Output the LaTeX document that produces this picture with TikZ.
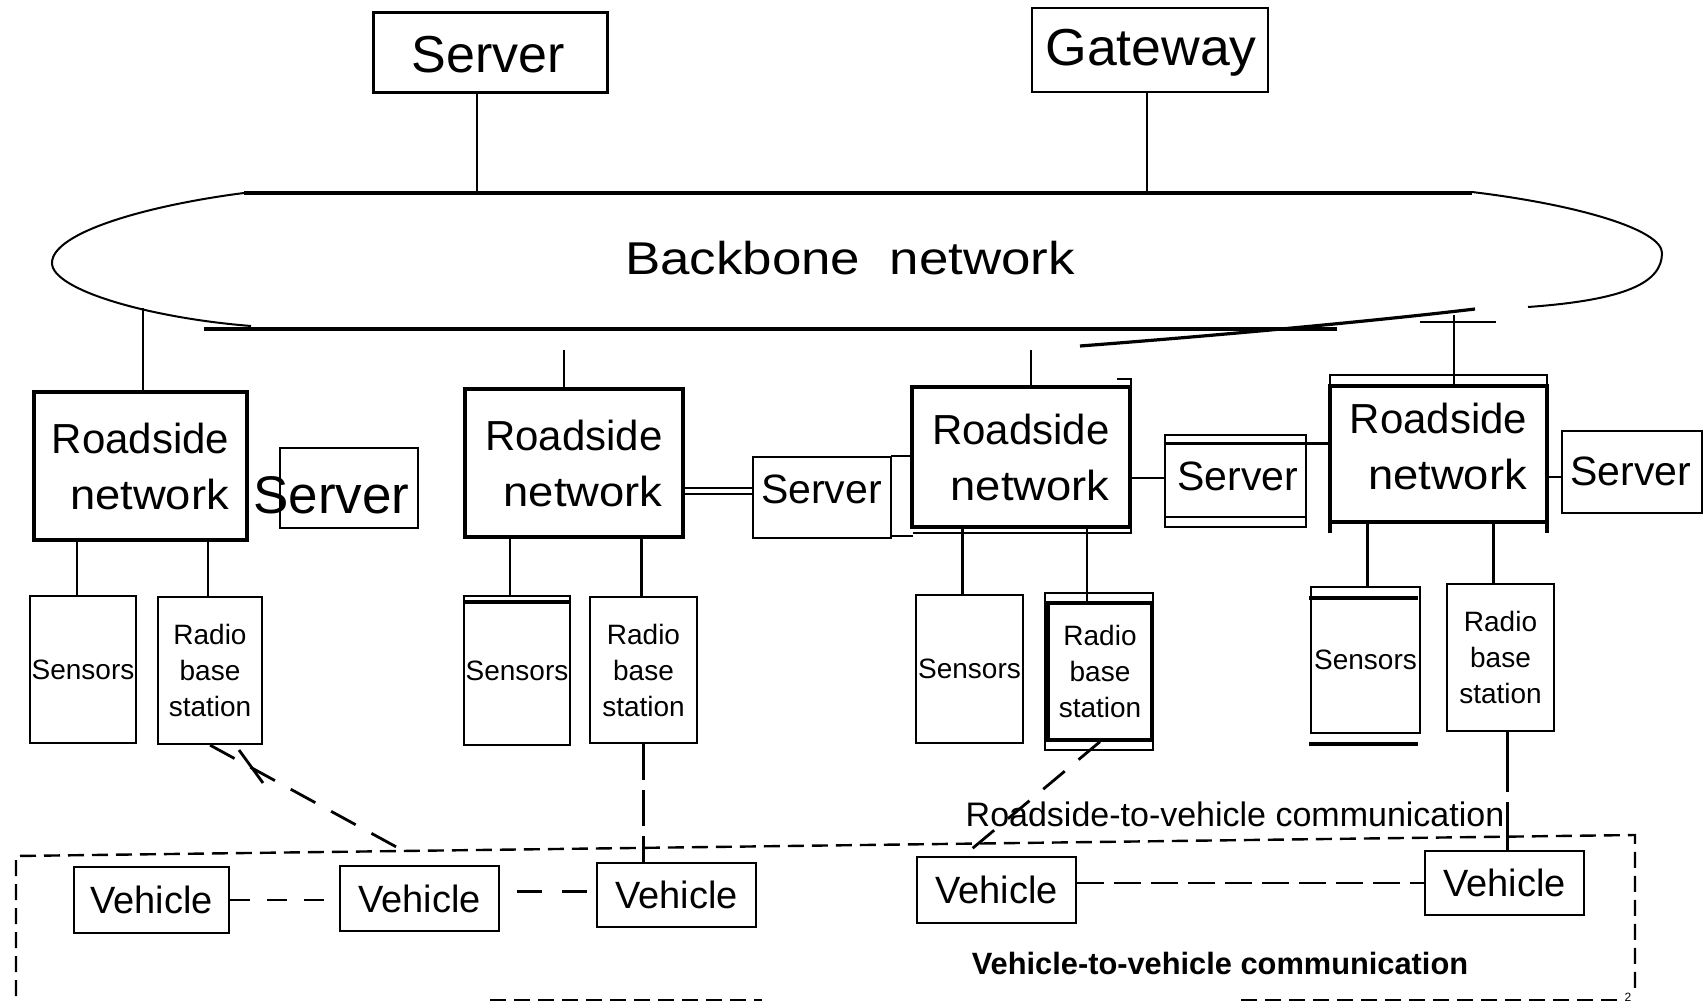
\documentclass[tikz,border=0pt]{standalone}
\usepackage{fontspec}
\setmainfont{Liberation Sans}
\usepackage{graphicx}
\usetikzlibrary{calc}
\tikzset{
  box/.style={draw, line width=1.3pt, inner sep=0pt},
  rbox/.style={box, line width=1.7pt, align=center, font=\fontsize{21}{28}\selectfont},
  sbox/.style={box, line width=1.4pt},
  smallbox/.style={box, line width=1.1pt, align=center, font=\fontsize{14}{18}\selectfont},
  vbox/.style={box, line width=1.3pt, font=\fontsize{19}{22}\selectfont},
  txt/.style={anchor=base, inner sep=0pt},
  srvfont/.style={font=\fontsize{20.5}{24}\selectfont},
  conn/.style={line width=1.1pt},
  bbline/.style={line width=1.6pt},
  vlink/.style={line width=1.4pt, dash pattern=on 10pt off 8.5pt},
  rlink/.style={line width=1.4pt, dash pattern=on 14pt off 9pt},
  region/.style={line width=1.2pt, dash pattern=on 8pt off 4pt},
}
\newcommand{\rdsnet}{Roadside\\\hspace*{9pt}\scalebox{1.08}[1]{network}}
\begin{document}
\begin{tikzpicture}[x=0.5pt,y=-0.5pt]
\useasboundingbox (0,0) rectangle (1707,1005);

% ---------- top boxes ----------
\node[box, line width=1.5pt, minimum width=117pt, minimum height=40pt] (srvTop) at (490,52.5) {};
\node[txt, font=\fontsize{26}{30}\selectfont] (srvTopT) at (488.5,73) {Server};
\node[box, line width=1.1pt, minimum width=118pt, minimum height=42pt] (gw) at (1150,50) {};
\node[txt, font=\fontsize{26}{30}\selectfont] (gwT) at (1151,66) {\scalebox{1.03}[1]{Gateway}};

% ---------- backbone ----------
\node[txt, font=\fontsize{23}{28}\selectfont] (bb) at (850,275) {\scalebox{1.15}[1]{Backbone\ \ network}};
\draw[bbline] (244,193) -- (1472,193);
\draw[line width=1pt] (244,193) .. controls (150,205) and (52,232) .. (52,263)
   .. controls (52,290) and (150,318) .. (251,326);
\draw[line width=1pt] (1472,192) .. controls (1580,205) and (1662,230) .. (1662,253)
   .. controls (1662,283) and (1625,300) .. (1528,307);
\draw[bbline] (204,329) -- (1337,329);
\draw[bbline] (1080,346) .. controls (1250,333) and (1400,318) .. (1475,309);

\coordinate (bA) at (477,193);
\coordinate (bB) at (1147,193);
\coordinate (bC) at (143,308);
\coordinate (bD) at (564,350);
\coordinate (bE) at (1031,350);
\coordinate (bF) at (1454,315);

% ---------- roadside networks ----------
\node[rbox, minimum width=106.5pt, minimum height=74pt] (R1) at (140.5,466) {\rdsnet};
\node[rbox, minimum width=109pt, minimum height=74pt] (R2) at (574,463) {\rdsnet};
\node[rbox, minimum width=109pt, minimum height=70pt] (R3) at (1021,457) {\rdsnet};
\node[rbox, minimum width=108.5pt, minimum height=68pt] (R4) at (1438.5,454) {};
\node[font=\fontsize{21}{28}\selectfont, align=center, inner sep=0pt] (R4T) at (1438.5,446.5) {\rdsnet};

% extra outlines (double edges)
\draw[line width=1.4pt] (1117,379) -- (1131,379) -- (1131,533) -- (913,533);
\draw[line width=1.3pt] (1330,386) -- (1330,375) -- (1547,375) -- (1547,386);
\draw[line width=1.7pt] (1330,522) -- (1330,533);
\draw[line width=1.7pt] (1547,522) -- (1547,533);

% ---------- servers ----------
\node[sbox, minimum width=69pt, minimum height=40pt] (S1) at (349,488) {};
\node[txt, font=\fontsize{26.5}{30}\selectfont] (S1T) at (331.5,513) {Server};
\node[sbox, minimum width=69pt, minimum height=40.5pt] (S2) at (822,497.5) {};
\node[txt, srvfont] (S2T) at (821.5,503) {Server};
\node[sbox, minimum width=70.5pt, minimum height=46pt] (S3) at (1235.5,481) {};
\node[txt, srvfont] (S3T) at (1238,490) {Server};
\node[sbox, line width=1.2pt, minimum width=70pt, minimum height=41pt] (S4) at (1632,472) {};
\node[txt, srvfont] (S4T) at (1631,485) {Server};

\draw[line width=1.2pt] (891,456) -- (912,456);
\draw[line width=1.4pt] (891,536) -- (913,536);
\draw[line width=1.2pt] (1165,517) -- (1306,517);

% ---------- sensors / radio base stations ----------
\node[smallbox, minimum width=53pt, minimum height=73.5pt] (Se1) at (83,669.5) {Sensors};
\node[smallbox, minimum width=52pt, minimum height=73.5pt] (Ra1) at (210,670.5) {Radio\\base\\station};
\node[smallbox, minimum width=53pt, minimum height=74.5pt] (Se2) at (517,670.5) {Sensors};
\node[smallbox, minimum width=53.5pt, minimum height=73pt] (Ra2) at (643.5,670) {Radio\\base\\station};
\node[smallbox, minimum width=53.5pt, minimum height=74pt] (Se3) at (969.5,669) {Sensors};
\node[smallbox, line width=1.7pt, minimum width=52pt, minimum height=68.5pt] (Ra3) at (1100,671.5) {Radio\\base\\station};
\node[smallbox, minimum width=54.5pt, minimum height=73pt] (Se4) at (1365.5,660) {Sensors};
\node[smallbox, minimum width=53.5pt, minimum height=73.5pt] (Ra4) at (1500.5,657.5) {Radio\\base\\station};

\draw[line width=2.2pt] (464,602) -- (570,602);
\draw[line width=2.2pt] (1309,598) -- (1418,598);
\draw[line width=2.2pt] (1309,744) -- (1418,744);
\draw[line width=1.1pt] (1045,593) rectangle (1153,750);

% ---------- vehicles ----------
\node[vbox, minimum width=77.5pt, minimum height=33pt] (V1) at (151.5,900) {Vehicle};
\node[vbox, minimum width=79.5pt, minimum height=32.5pt] (V2) at (419.5,898.5) {Vehicle};
\node[vbox, minimum width=79.5pt, minimum height=32pt] (V3) at (676.5,895) {Vehicle};
\node[vbox, minimum width=79.5pt, minimum height=33pt] (V4) at (996.5,890) {Vehicle};
\node[vbox, minimum width=79.5pt, minimum height=32pt] (V5) at (1504.5,883) {Vehicle};

% ---------- labels ----------
\node[font=\fontsize{17}{20}\selectfont, inner sep=0pt] (r2v) at (1235,814) {Roadside-to-vehicle communication};
\node[font=\bfseries\fontsize{15.4}{18}\selectfont, inner sep=0pt] (v2v) at (1220,963) {Vehicle-to-vehicle communication};
\node[txt, font=\fontsize{6}{7}\selectfont] (pg) at (1628,1001) {2};

% ---------- connectors: backbone ----------
\draw[conn] (bA) -- (bA |- srvTop.south);
\draw[conn] (bB) -- (bB |- gw.south);
\draw[conn] (bC) -- (bC |- R1.north);
\draw[line width=0.7pt] (bD) -- (bD |- R2.north);
\draw[line width=0.7pt] (bE) -- (bE |- R3.north);
\draw[conn] (bF) -- (bF |- R4.north);
\coordinate (bFl) at ($(bF)+(-34,7)$);
\coordinate (bFr) at ($(bF)+(42,7)$);
\draw[conn] (bFl) -- (bFr);

% ---------- connectors: roadside - servers ----------
\coordinate (c22a) at ($(R2.east)+(0,25)$);
\coordinate (c22b) at ($(R2.east)+(0,31)$);
\draw[conn] (c22a) -- (c22a -| S2.west);
\draw[conn] (c22b) -- (c22b -| S2.west);
\coordinate (c33) at ($(R3.east)+(0,21)$);
\draw[conn, line width=1.4pt] (c33) -- (c33 -| S3.west);
\coordinate (c34) at ($(S3.north west)+(0,10)$);
\draw[line width=1.7pt] (c34) -- (c34 -| R4.west);
\coordinate (c44) at ($(R4.east)+(0,23)$);
\draw[conn] (c44) -- (c44 -| S4.west);

% ---------- connectors: roadside - sensors / radio ----------
\coordinate (t1) at ($(Se1.north)+(-6,0)$);
\draw[conn] (t1) -- (t1 |- R1.south);
\coordinate (t2) at ($(Ra1.north)+(-2,0)$);
\draw[conn] (t2) -- (t2 |- R1.south);
\coordinate (t3) at ($(Se2.north)+(-7,0)$);
\draw[conn] (t3) -- (t3 |- R2.south);
\coordinate (t4) at ($(Ra2.north)+(-2,0)$);
\draw[conn] (t4) -- (t4 |- R2.south);
\coordinate (t5) at ($(Se3.north)+(-7,0)$);
\draw[conn] (t5) -- (t5 |- R3.south);
\coordinate (t6) at ($(Ra3.north)+(-13,0)$);
\draw[conn] (t6) -- (t6 |- R3.south);
\coordinate (t7) at ($(Se4.north)+(2,0)$);
\draw[conn] (t7) -- (t7 |- R4.south);
\coordinate (t8) at ($(Ra4.north)+(-7,0)$);
\draw[conn] (t8) -- (t8 |- R4.south);

% ---------- radio links ----------
\coordinate (eV2) at ($(V2.north west)+(70,-11)$);
\draw[rlink] (Ra1.south) -- (eV2);
\draw[line width=1.4pt] (239,750) -- (263,783);
\draw[line width=1.2pt, dash pattern=on 18pt off 5pt] (Ra2.south) -- (Ra2.south |- V3.north);
\coordinate (eV4) at ($(V4.north west)+(48,0)$);
\draw[rlink] (Ra3.south) -- (eV4);
\coordinate (s4) at ($(Ra4.south)+(7,0)$);
\draw[line width=1.3pt, dash pattern=on 30pt off 5pt] (s4) -- (s4 |- V5.north);

% ---------- vehicle links ----------
\draw[vlink] (V1.east) -- (V1.east -| V2.west);
\coordinate (v23) at ($(V2.east)+(0,-7)$);
\draw[line width=1.4pt, dash pattern=on 12.5pt off 10pt, dash phase=14pt] (v23) -- (v23 -| V3.west);
\coordinate (v45) at ($(V4.east)+(0,-7)$);
\draw[line width=1.4pt, dash pattern=on 13.5pt off 5pt] (v45) -- (v45 -| V5.west);

% ---------- vehicle-to-vehicle region ----------
\draw[region] (16,996) -- (16,856) -- (1635,835) -- (1635,988);
\draw[region] (490,1000) -- (762,1000);
\draw[region] (1241,1000) -- (1622,1000);
\end{tikzpicture}
\end{document}
